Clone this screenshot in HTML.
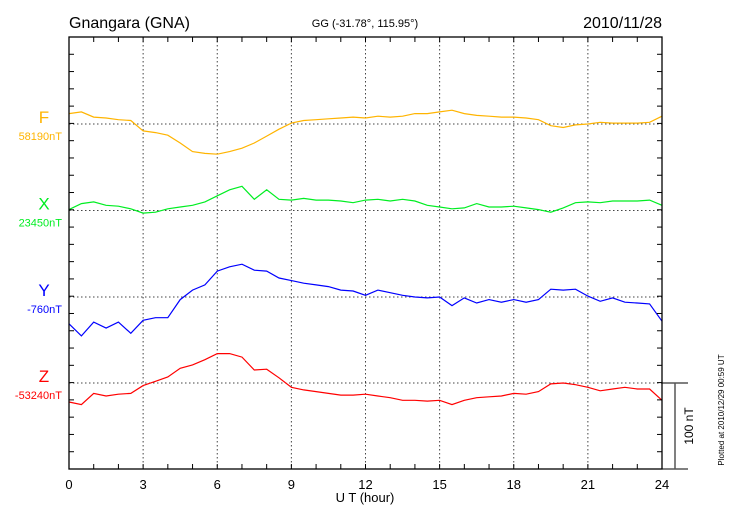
<!DOCTYPE html>
<html><head><meta charset="utf-8"><style>
body{margin:0;background:#fff;}
svg{display:block;font-family:"Liberation Sans",sans-serif;}
</style></head><body>
<svg id="chart" width="730" height="520" viewBox="0 0 730 520" xmlns="http://www.w3.org/2000/svg">
<text x="69" y="28" font-size="16">Gnangara (GNA)</text>
<text x="365" y="27" font-size="11" text-anchor="middle">GG (-31.78°, 115.95°)</text>
<text x="662" y="28" font-size="16" text-anchor="end">2010/11/28</text>
<text x="365" y="502" font-size="13" text-anchor="middle">U T (hour)</text>
<text transform="translate(693,426) rotate(-90)" font-size="12" text-anchor="middle">100 nT</text>
<text transform="translate(724,410) rotate(-90)" font-size="8" text-anchor="middle">Plotted at 2010/12/29 00:59 UT</text>
<g id="grid"></g><g id="series"></g><g id="axes"></g>
</svg>
<script>
const hours=[0,0.5,1,1.5,2,2.5,3,3.5,4,4.5,5,5.5,6,6.5,7,7.5,8,8.5,9,9.5,10,10.5,11,11.5,12,12.5,13,13.5,14,14.5,15,15.5,16,16.5,17,17.5,18,18.5,19,19.5,20,20.5,21,21.5,22,22.5,23,23.5,24];
const fVals=[12,14,8,7,5,4,-8,-10,-13,-22,-32,-34,-35,-32,-28,-22,-14,-6,1,4,5,6,7,8,7,9,8,9,12,12,14,16,12,10,9,8,8,7,5,-2,-4,-1,0,2,1,1,1,2,9];
const xVals=[1,8,10,6,5,2,-3,-2,2,4,6,10,17,24,28,13,24,13,12,14,12,12,11,9,12,13,11,13,11,6,4,2,3,8,4,4,5,3,1,-2,3,9,10,9,11,11,11,12,6];
const yVals=[-31,-45,-29,-36,-29,-42,-27,-24,-24,-3,8,14,30,35,38,31,30,22,19,16,14,12,8,7,2,8,5,2,0,-1,0,-10,-1,-7,-3,-6,-3,-6,-3,9,8,9,1,-5,-1,-6,-7,-8,-28];
const zVals=[-22,-25,-12,-15,-13,-12,-3,2,7,17,21,27,34,34,30,15,16,6,-5,-8,-10,-12,-14,-14,-13,-15,-17,-20,-20,-21,-20,-25,-20,-17,-16,-15,-12,-13,-10,-1,0,-2,-5,-9,-7,-5,-7,-7,-20];
const comps=['F','X','Y','Z'];
const baseLabels=['58190nT','23450nT','-760nT','-53240nT'];
const xTickLabels=[0,3,6,9,12,15,18,21,24];
const NS='http://www.w3.org/2000/svg';
const L=69,R=662,T=37,B=469,PX=0.864;
const colors=['#ffb400','#00ee22','#0000ff','#ff0000'];
const bases=[124,210.5,297,383];
const sx=h=>L+h*(R-L)/24;
const sy=(i,v)=>bases[i]-v*PX;
function mk(tag,attrs,parent){const e=document.createElementNS(NS,tag);for(const k in attrs)e.setAttribute(k,attrs[k]);parent.appendChild(e);return e;}
const grid=document.getElementById('grid'),ser=document.getElementById('series'),ax=document.getElementById('axes');
xTickLabels.forEach(h=>{
 if(h>0&&h<24){const g=mk('line',{x1:sx(h),x2:sx(h),y1:T,y2:B,stroke:'#444','stroke-dasharray':'1.5,2.5','stroke-width':1},grid);
 
 }
 const t=mk('text',{x:sx(h),y:489,'font-size':13,'text-anchor':'middle'},ax);t.textContent=h;
 
 
});
const allVals=[fVals,xVals,yVals,zVals];
comps.forEach((c,i)=>{
 const g=mk('line',{x1:L,x2:R,y1:bases[i],y2:bases[i],stroke:'#444','stroke-dasharray':'1.5,2.5'},grid);
 
 
 const p=mk('polyline',{points:hours.map((h,k)=>sx(h).toFixed(1)+','+sy(i,allVals[i][k]).toFixed(1)).join(' '),fill:'none',stroke:colors[i],'stroke-width':1.2},ser);
 
 
 const t=mk('text',{x:44,y:bases[i]-1,'font-size':17,'text-anchor':'middle',fill:colors[i]},ax);t.textContent=c;
 
 
 const v=mk('text',{x:62,y:bases[i]+16,'font-size':11,'text-anchor':'end',fill:colors[i]},ax);v.textContent=baseLabels[i];
 
 
});
const fr=mk('rect',{x:L,y:T,width:R-L,height:B-T,fill:'none',stroke:'#000','stroke-width':1.3},ax);


for(let h=1;h<24;h++){
 mk('line',{x1:sx(h),x2:sx(h),y1:T,y2:T+5,stroke:'#000'},ax);
 mk('line',{x1:sx(h),x2:sx(h),y1:B,y2:B-5,stroke:'#000'},ax);
}
for(let y=T+17.28;y<B-1;y+=17.28){
 mk('line',{x1:L,x2:L+5,y1:y,y2:y,stroke:'#000'},ax);
 mk('line',{x1:R,x2:R-5,y1:y,y2:y,stroke:'#000'},ax);
}
mk('line',{x1:R,x2:688,y1:B,y2:B,stroke:'#000'},ax);
mk('line',{x1:R,x2:688,y1:383,y2:383,stroke:'#000'},ax);
const sb=mk('line',{x1:675,x2:675,y1:383,y2:B,stroke:'#555','stroke-width':1.5},ax);


</script>
</body></html>
